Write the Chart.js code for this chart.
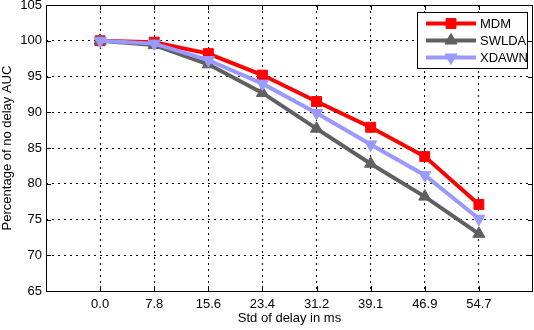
<!DOCTYPE html>
<html>
<head>
<meta charset="utf-8">
<script src="https://cdn.jsdelivr.net/npm/chart.js@4.4.1/dist/chart.umd.min.js"></script>
<style>
  html, body { margin: 0; padding: 0; background: #fff; overflow: hidden; }
</style>
</head>
<body>
<canvas id="auc" width="534" height="330"></canvas>
<script>
// delay std (ms), shown as tick labels at positions 1..8
const xLabels = ['0.0', '7.8', '15.6', '23.4', '31.2', '39.1', '46.9', '54.7'];
const xPos = [1, 2, 3, 4, 5, 6, 7, 8];

// percentage of no-delay AUC
const mdm   = [100, 99.8, 98.2, 95.2, 91.5, 87.9, 83.8, 77.1];
const swlda = [100, 99.4, 96.7, 92.7, 87.7, 82.8, 78.2, 73.0];
const xdawn = [100, 99.6, 97.3, 94.0, 89.9, 85.5, 81.2, 75.1];

const yTicks = [65, 70, 75, 80, 85, 90, 95, 100, 105];

const FONT = '"Liberation Sans", Arial, Helvetica, sans-serif';

function pts(vals) {
    return vals.map(function(v, i) { return { x: xPos[i], y: v }; });
}

// frame, inward ticks and legend like a matlab figure
const matlabBits = {
    id: 'matlabBits',
    afterDatasetsDraw: function(chart) {
        const ctx = chart.ctx;
        const a = chart.chartArea;
        const xs = chart.scales.x, ys = chart.scales.y;
        ctx.save();
        ctx.strokeStyle = '#000';
        ctx.lineWidth = 1;
        ctx.setLineDash([]);
        ctx.beginPath();
        xPos.forEach(function(v) {
            const px = Math.round(xs.getPixelForValue(v)) + 0.5;
            ctx.moveTo(px, a.bottom); ctx.lineTo(px, a.bottom - 5);
            ctx.moveTo(px, a.top); ctx.lineTo(px, a.top + 5);
        });
        yTicks.forEach(function(v) {
            const py = Math.round(ys.getPixelForValue(v)) + 0.5;
            ctx.moveTo(a.left, py); ctx.lineTo(a.left + 5, py);
            ctx.moveTo(a.right, py); ctx.lineTo(a.right - 5, py);
        });
        ctx.stroke();
        ctx.strokeRect(Math.round(a.left) + 0.5, Math.round(a.top) + 0.5,
            Math.round(a.right - a.left) - 1, Math.round(a.bottom - a.top));

        // legend
        const bx = 417.5, by = 12.5, bw = 110, bh = 56;
        ctx.fillStyle = '#fff';
        ctx.fillRect(bx, by, bw, bh);
        ctx.strokeRect(bx, by, bw, bh);
        chart.data.datasets.forEach(function(ds, i) {
            const ly = 23.5 + i * 17;
            ctx.strokeStyle = ds.borderColor;
            ctx.fillStyle = ds.borderColor;
            ctx.lineWidth = 4;
            ctx.beginPath();
            ctx.moveTo(426, ly); ctx.lineTo(476, ly);
            ctx.stroke();
            ctx.lineWidth = 1;
            Chart.helpers.drawPoint(ctx, {
                pointStyle: ds.pointStyle, radius: ds.pointRadius,
                rotation: ds.pointRotation || 0, borderWidth: 1
            }, 451, ly);
            ctx.fillStyle = '#000';
            ctx.font = '13px ' + FONT;
            ctx.textBaseline = 'middle';
            ctx.textAlign = 'left';
            ctx.fillText(ds.label, 480, ly + 1);
        });
        ctx.restore();
    }
};

new Chart(document.getElementById('auc').getContext('2d'), {
    type: 'line',
    data: {
        datasets: [{
            label: 'MDM',
            data: pts(mdm),
            borderColor: '#ff0000',
            backgroundColor: '#ff0000',
            borderWidth: 4,
            pointStyle: 'rect',
            pointRadius: 7,
            pointBorderWidth: 1,
            order: 3
        }, {
            label: 'SWLDA',
            data: pts(swlda),
            borderColor: '#606060',
            backgroundColor: '#606060',
            borderWidth: 4,
            pointStyle: 'triangle',
            pointRadius: 7,
            pointBorderWidth: 1,
            order: 2
        }, {
            label: 'XDAWN',
            data: pts(xdawn),
            borderColor: '#9999ff',
            backgroundColor: '#9999ff',
            borderWidth: 4,
            pointStyle: 'triangle',
            pointRotation: 180,
            pointRadius: 7,
            pointBorderWidth: 1,
            order: 1
        }]
    },
    options: {
        responsive: false,
        animation: false,
        layout: { autoPadding: false, padding: { top: 5, right: 1, left: 0, bottom: 0 } },
        plugins: {
            legend: { display: false },
            tooltip: { enabled: false }
        },
        scales: {
            x: {
                type: 'linear',
                min: 0,
                max: 9,
                afterBuildTicks: function(axis) {
                    axis.ticks = xPos.map(function(v) { return { value: v }; });
                },
                afterFit: function(axis) {
                    axis.height = 39;
                    axis.paddingLeft = 0;
                    axis.paddingRight = 0;
                },
                ticks: {
                    color: '#000',
                    font: { family: FONT, size: 13 },
                    padding: 6,
                    maxRotation: 0,
                    callback: function(v) { return xLabels[v - 1]; }
                },
                grid: { color: '#000', lineWidth: 1, drawTicks: false },
                border: { display: false, dash: [2, 4] },
                title: {
                    display: true,
                    text: 'Std of delay in ms',
                    color: '#000',
                    font: { family: FONT, size: 13 },
                    padding: { top: 0, bottom: 4 }
                }
            },
            y: {
                min: 65,
                max: 105,
                afterBuildTicks: function(axis) {
                    axis.ticks = yTicks.map(function(v) { return { value: v }; });
                },
                afterFit: function(axis) {
                    axis.width = 46;
                    axis.paddingTop = 0;
                    axis.paddingBottom = 0;
                },
                ticks: {
                    color: '#000',
                    font: { family: FONT, size: 13 },
                    padding: 4
                },
                grid: { color: '#000', lineWidth: 1, drawTicks: false },
                border: { display: false, dash: [2, 4] },
                title: {
                    display: true,
                    text: 'Percentage of no delay AUC',
                    color: '#000',
                    font: { family: FONT, size: 13 },
                    padding: { top: 0, bottom: 2 }
                }
            }
        }
    },
    plugins: [matlabBits]
});
</script>
</body>
</html>
